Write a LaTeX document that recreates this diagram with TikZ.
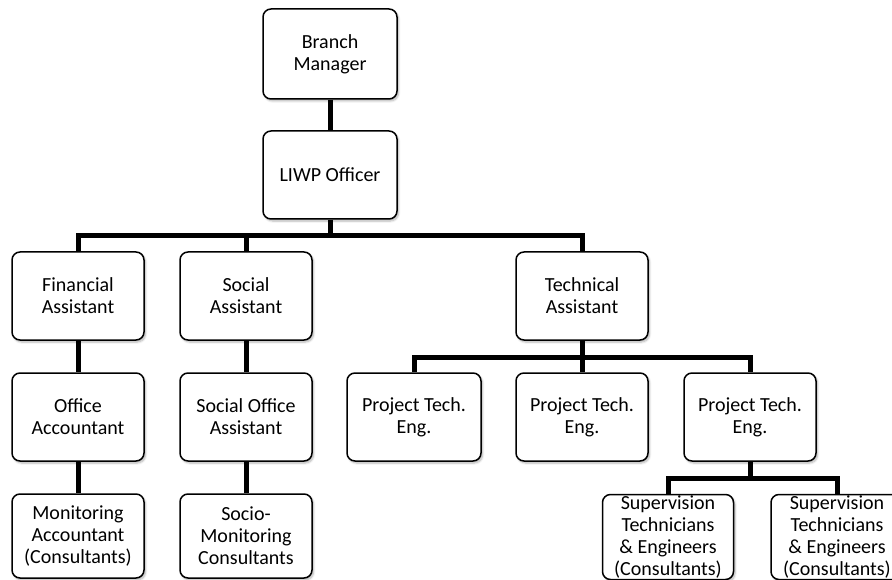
\documentclass[tikz,border=0pt]{standalone}
\usepackage{fontspec}
\setmainfont{Carlito}
\usetikzlibrary{backgrounds,shadows.blur}
\begin{document}
\begin{tikzpicture}[x=1pt,y=-1pt,
  orgbox/.style={draw=black, line width=1.5pt, fill=white, rounded corners=8pt,
    align=center, inner sep=0pt, minimum width=132pt, minimum height=88pt,
    font=\fontsize{20}{22}\selectfont,
    blur shadow={shadow blur steps=6, shadow xshift=1.5pt, shadow yshift=-2pt, shadow opacity=30, shadow blur radius=2pt}},
  conn/.style={draw=black, line width=5pt, line join=miter}]
\useasboundingbox (0,0) rectangle (892,580);
% nodes
\node[orgbox, minimum width=134pt, minimum height=90pt] (bm) at (330,54) {Branch\\Manager};
\node[orgbox, minimum width=134pt] (liwp) at (330,175) {LIWP Officer};
\node[orgbox] (fa) at (78,296) {Financial\\Assistant};
\node[orgbox] (sa) at (246,296) {Social\\Assistant};
\node[orgbox] (ta) at (582,296) {Technical\\Assistant};
\node[orgbox] (oa) at (78,417) {Office\\Accountant};
\node[orgbox] (soa) at (246,417) {Social Office\\Assistant};
\node[orgbox, minimum height=84pt] (ma) at (78,536) {Monitoring\\Accountant\\(Consultants)};
\node[orgbox, minimum height=84pt] (smc) at (246,536) {Socio-\\Monitoring\\Consultants};
\node[orgbox, minimum width=134pt] (pt1) at (414,417) {Project Tech.\\Eng.};
\node[orgbox] (pt2) at (582,417) {Project Tech.\\Eng.};
\node[orgbox] (pt3) at (750,417) {Project Tech.\\Eng.};
\node[orgbox, minimum width=131pt, minimum height=85pt] (sv1) at (668,537) {Supervision\\Technicians\\\& Engineers\\(Consultants)};
\node[orgbox, minimum width=132pt, minimum height=85pt] (sv2) at (837,537) {Supervision\\Technicians\\\& Engineers\\(Consultants)};
% connectors
\coordinate (b1) at (330,236);
\coordinate (b2) at (582,357);
\coordinate (b3) at (750,478);
\begin{scope}[on background layer]
\draw[conn] (bm.south) -- (liwp.north);
\draw[conn] (liwp.south) -- (b1);
\draw[conn] (fa.north) |- (b1) -| (ta.north);
\draw[conn] (sa.north) -- (sa.north |- b1);
\draw[conn] (fa.south) -- (oa.north);
\draw[conn] (oa.south) -- (ma.north);
\draw[conn] (sa.south) -- (soa.north);
\draw[conn] (soa.south) -- (smc.north);
\draw[conn] (ta.south) -- (b2);
\draw[conn] (pt1.north) |- (b2) -| (pt3.north);
\draw[conn] (pt2.north) -- (pt2.north |- b2);
\draw[conn] (pt3.south) -- (b3);
\draw[conn] (sv1.north) |- (b3) -| (sv2.north);
\end{scope}
\end{tikzpicture}
\end{document}
